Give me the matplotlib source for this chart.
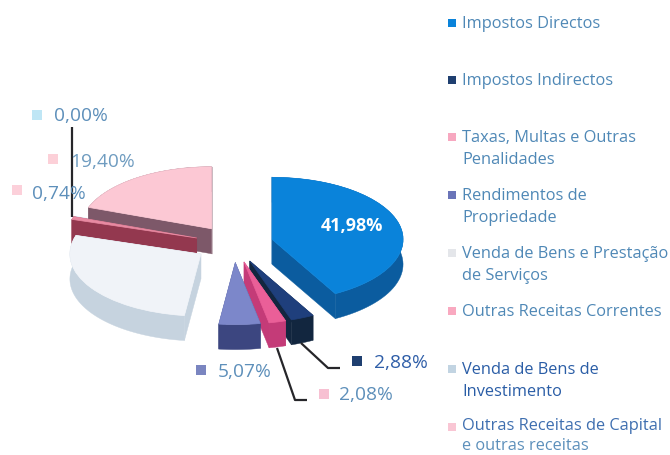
"""Exploded 3D-style pie of revenue shares with side legend."""
import matplotlib; matplotlib.use('Agg')
import matplotlib.pyplot as plt
from matplotlib.collections import PolyCollection
import numpy as np

categories=['Impostos Directos','Impostos Indirectos','Taxas, Multas e Outras\nPenalidades',
            'Rendimentos de\nPropriedade','Venda de Bens e Prestação\nde Serviços','Outras Receitas Correntes',
            'Venda de Bens de\nInvestimento','Outras Receitas de Capital\ne outras receitas']
values=[41.98,2.88,2.08,5.07,27.85,0.74,0.00,19.40]

# styles
top_col=['#0a83da','#1f3f7c','#ea5f98','#7c87ca','#f0f3f8','#e88aa2','#cfe4f2','#fcc8d4']
wall_col=['#0b5c9f','#12263f','#c43b78','#3c4680','#c6d3df','#93384f','#a9bccb','#7d5869']
key_col=['#0a83da','#1f3f70','#f7a8c0','#6a74b8','#e4e6ea','#f9a9c0','#c2d4e2','#f9c6d4']
label_pos=[None,(374,363),(339,395),(218,372),None,(32,194),(54,116),(70,162)]
label_col=['white','#2f5ea8','#5d8fba','#5d8fba',None,'#5d8fba','#5d8fba','#6f9cc0']
label_key=[None,(357,361),(324,394),(201,370),None,(17,190),(37,115),(53,159)]
label_key_col=[None,'#1f3f70','#f7c0d2','#7a85c0',None,'#fcd0da','#bfe6f5','#fcd0d8']
legend_key_y=[23,80,137,195,253,311,369,427]
legend_text_y=[24,81,138,196,254,312,370,426]
legend_line_h=[22.5,22.5,22.5,22.5,22.5,22.5,22.5,20]
legend_col=['#4f88b6','#4f88b6','#4f88b6','#4f88b6','#4f88b6','#4f88b6','#2a5da6','#3f6fb0']
leaders=[([72,72],[127,217]),([301,328,340],[343,368,368]),([277,295,307],[348,400,400])]
W,H=670,455
cx,cy,rx,ry,depth=234,244,131,62,25
explode=0.3

plt.rcParams.update({'font.family':['Open Sans','DejaVu Sans']})
fig=plt.figure(figsize=(W/100,H/100),dpi=100)
ax=fig.add_axes([0,0,1,1])
wedges,_=ax.pie(values,explode=[explode]*len(values),startangle=90,counterclock=False,colors=top_col,radius=1,
                wedgeprops={'linewidth':0.5})
for w in wedges: w.set_edgecolor(w.get_facecolor())
ax.set_aspect('auto')
ax.set_xlim(-cx/rx,(W-cx)/rx); ax.set_ylim(-(H-cy)/ry,cy/ry)
ax.axis('off')

# side walls, far slices first so near ones cover them
frac=np.array(values)/sum(values)*2*np.pi
ends=np.cumsum(frac); starts=ends-frac; mids=(starts+ends)/2
order=np.argsort(-np.cos(mids))
d=depth/ry
for z,i in enumerate(order):
    if values[i]==0: continue
    ox,oy=explode*np.sin(mids[i]),explode*np.cos(mids[i])
    t=np.linspace(starts[i],ends[i],60)
    ax_,ay_=ox+np.sin(t),oy+np.cos(t)
    arc=np.c_[np.r_[ax_,ax_[::-1]],np.r_[ay_,ay_[::-1]-d]]
    side1=[(ox,oy),(ax_[0],ay_[0]),(ax_[0],ay_[0]-d),(ox,oy-d)]
    side2=[(ox,oy),(ax_[-1],ay_[-1]),(ax_[-1],ay_[-1]-d),(ox,oy-d)]
    ax.add_collection(PolyCollection([arc,side1,side2],facecolors=wall_col[i],edgecolors=wall_col[i],linewidths=0.3,zorder=2*z+1))
    wedges[i].set_zorder(2*z+2)

# overlay in pixel units for labels and legend
ov=fig.add_axes([0,0,1,1],zorder=5); ov.set_xlim(0,W); ov.set_ylim(H,0); ov.axis('off'); ov.patch.set_alpha(0)
for xs,ys in leaders:
    ov.plot(xs,ys,color='#26262a',lw=1.6,solid_capstyle='butt')
for i,v in enumerate(values):
    s=f'{v:.2f}%'.replace('.',',')
    if i==0:
        ov.text(352,226,s,color='white',fontsize=13,fontweight='bold',ha='center',va='center')
    elif label_pos[i]:
        ov.text(label_pos[i][0],label_pos[i][1],s,color=label_col[i],fontsize=13.8,ha='left',va='center')
        ov.scatter(*label_key[i],marker='s',s=62,color=label_key_col[i],linewidths=0)
for i,c in enumerate(categories):
    ov.scatter(452,legend_key_y[i],marker='s',s=30,color=key_col[i],linewidths=0)
    for j,line in enumerate(c.split('\n')):
        col=legend_col[i] if not (i==7 and j==1) else '#5d90bb'
        ov.text(462,legend_text_y[i]+j*legend_line_h[i],line,color=col,fontsize=11.8,ha='left',va='center')
fig.savefig('out.png',dpi=100)
